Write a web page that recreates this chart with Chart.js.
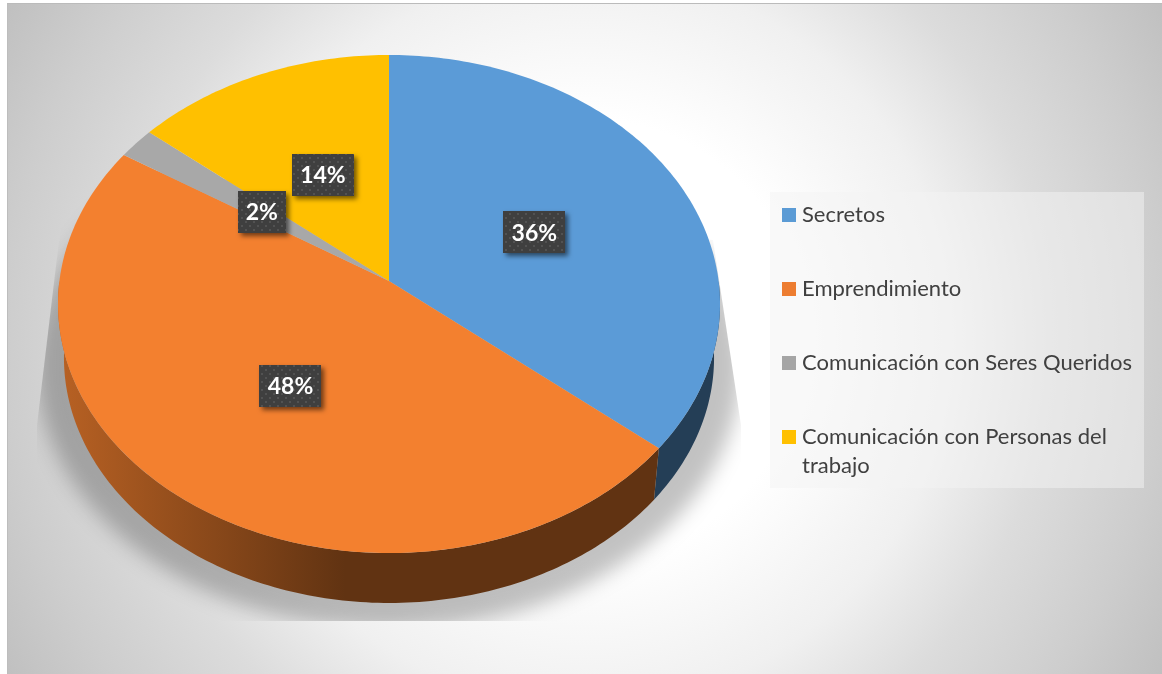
<!DOCTYPE html>
<html>
<head>
<meta charset="utf-8">
<title>Pie</title>
<script src="https://cdn.jsdelivr.net/npm/chart.js@4/dist/chart.umd.min.js"></script>
<style>
  html, body { margin: 0; padding: 0; background: #fff; overflow: hidden; }
  #frame {
    position: absolute; left: 7px; top: 3px; width: 1155px; height: 671px;
    background: radial-gradient(circle farthest-corner at 50% 50%,
      #fff 0%, #fff 33%, #f0f0f0 55%, #dcdcdc 70%, #cdcdcd 87%, #c0c0c0 100%);
    border-top: 1px solid #bbb; border-left: 1px solid #bdbdbd; box-sizing: border-box;
  }
  #chart { position: absolute; left: 0; top: 0; }
  #legend {
    position: absolute; left: 770px; top: 192px; width: 374px; height: 296px;
    margin: 0; padding: 0; list-style: none; background: rgba(243,243,243,.5);
    font: 22px/29px Lato, sans-serif; color: #404040;
  }
  #legend li { position: absolute; left: 12px; right: 4px; padding-left: 20px; }
  #legend i { position: absolute; left: 0; top: 9px; width: 14px; height: 14px; }
</style>
</head>
<body>
<div id="frame"></div>
<canvas id="chart" width="1162" height="674"></canvas>
<ul id="legend"></ul>
<script>
const labels = ['Secretos', 'Emprendimiento', 'Comunicación con Seres Queridos', 'Comunicación con Personas del trabajo'];
const values = [36, 48, 2, 14];
const colors = ['#5b9bd7', '#f3802f', '#a8a8a8', '#ffc000'];
const legendColors = ['#5b9bd5', '#ed7d31', '#a5a5a5', '#ffc000'];
const labelNudge = [[2, 2], [0, 3], [0, 0], [0, -1]];

// disc projection: circle of the arc elements -> tilted ellipse with perspective
const TILT = 0.0924, STRETCH_X = 1.4584, STRETCH_Y = 1.0925;
// rim at the bottom of the wall
const BASE_X = 0.982, BASE_Y = 0.985, BASE_DROP = 54;

function project(el, ang, r, base) {
  const X = Math.cos(ang) * r, Y = Math.sin(ang) * r;
  const d = 1 - TILT * Y;
  const R = el.outerRadius;
  return {
    x: el.x + R * STRETCH_X * X / d * (base ? BASE_X : 1),
    y: el.y + R * STRETCH_Y * Y / d * (base ? BASE_Y : 1) + (base ? BASE_DROP : 0),
  };
}

function shade(hex, k) {
  const n = parseInt(hex.slice(1), 16);
  return `rgb(${(n >> 16) * k | 0},${((n >> 8) & 255) * k | 0},${(n & 255) * k | 0})`;
}

function rimPoints(el, from, to, base) {
  const pts = [], steps = Math.max(4, Math.ceil((to - from) * 60));
  for (let i = 0; i <= steps; i++) {
    pts.push(project(el, from + (to - from) * i / steps, 1, base));
  }
  return pts;
}

function tracePath(ctx, pts) {
  ctx.beginPath();
  pts.forEach((p, i) => i ? ctx.lineTo(p.x, p.y) : ctx.moveTo(p.x, p.y));
  ctx.closePath();
}

// soft floor shadow, cut off by the plot rectangle
function drawShadow(ctx, el) {
  ctx.save();
  ctx.beginPath();
  [[110, 165], [68, 165], [37, 425], [37, 621], [741, 621], [741, 425], [713, 240]].forEach((p, i) => i ? ctx.lineTo(p[0], p[1]) : ctx.moveTo(p[0], p[1]));
  ctx.closePath();
  ctx.clip();
  ctx.filter = 'blur(10px)';
  ctx.fillStyle = 'rgba(0,0,0,.24)';
  ctx.beginPath();
  ctx.ellipse(el.x, el.y + 85, 352, 263, 0, 0, Math.PI * 2);
  ctx.fill();
  ctx.restore();
}

function makeDots(ctx) {
  const c = document.createElement('canvas');
  c.width = 8; c.height = 8;
  const g = c.getContext('2d');
  g.fillStyle = '#3f3f3f';
  g.fillRect(0, 0, 8, 8);
  g.fillStyle = '#525252';
  g.fillRect(1, 1, 2, 2);
  g.fillRect(5, 5, 2, 2);
  return ctx.createPattern(c, 'repeat');
}

const labelBox = { h: 42, pad: 8 };

function drawLabels(ctx, arcs) {
  const dots = makeDots(ctx);
  ctx.font = 'bold 23px Lato, sans-serif';
  ctx.textAlign = 'center';
  ctx.textBaseline = 'middle';
  arcs.forEach((el, i) => {
    const mid = (el.startAngle + el.endAngle) / 2;
    const p = project(el, mid, 0.49, false);
    const px = p.x + labelNudge[i][0], py = p.y + labelNudge[i][1];
    const txt = values[i] + '%';
    const w = Math.round(ctx.measureText(txt).width) + labelBox.pad * 2;
    const x = Math.round(px - w / 2), y = Math.round(py - labelBox.h / 2);
    ctx.save();
    ctx.shadowColor = 'rgba(0,0,0,.55)';
    ctx.shadowBlur = 5;
    ctx.shadowOffsetX = 3;
    ctx.shadowOffsetY = 3;
    ctx.fillStyle = dots;
    ctx.fillRect(x, y, w, labelBox.h);
    ctx.restore();
    ctx.fillStyle = '#fff';
    ctx.fillText(txt, px, py + 1);
  });
}

const pie3d = {
  id: 'pie3d',
  beforeDatasetsDraw(chart) {
    const ctx = chart.ctx;
    const arcs = chart.getDatasetMeta(0).data;
    drawShadow(ctx, arcs[0]);

    // walls first, only the near half of the rim can show
    const c = arcs[0];
    arcs.forEach((el, i) => {
      const from = Math.max(el.startAngle, 0), to = Math.min(el.endAngle, Math.PI);
      if (from >= to) return;
      const g = ctx.createLinearGradient(c.x - 324, 0, c.x - 44, 0);
      g.addColorStop(0, shade(colors[i], 0.75));
      g.addColorStop(1, shade(colors[i], 0.4));
      ctx.fillStyle = g;
      tracePath(ctx, rimPoints(el, from, to, false).concat(rimPoints(el, from, to, true).reverse()));
      ctx.fill();
    });

    arcs.forEach((el, i) => {
      ctx.fillStyle = colors[i];
      tracePath(ctx, [{ x: el.x, y: el.y }].concat(rimPoints(el, el.startAngle, el.endAngle, false)));
      ctx.fill();
    });

    drawLabels(ctx, arcs);
    return false;
  },
};

new Chart(document.getElementById('chart'), {
  type: 'pie',
  data: { labels, datasets: [{ data: values, backgroundColor: colors, borderWidth: 0 }] },
  options: {
    responsive: false,
    animation: false,
    layout: { padding: { left: 163, right: 547, top: 55, bottom: 167 } },
    plugins: { legend: { display: false }, tooltip: { enabled: false } },
  },
  plugins: [pie3d],
});

// side legend
const legendEl = document.getElementById('legend');
const legendTops = [7, 81, 155, 229];
labels.forEach((l, i) => {
  const li = document.createElement('li');
  li.style.top = legendTops[i] + 'px';
  li.innerHTML = `<i style="background:${legendColors[i]}"></i>${l}`;
  legendEl.append(li);
});
</script>
</body>
</html>
